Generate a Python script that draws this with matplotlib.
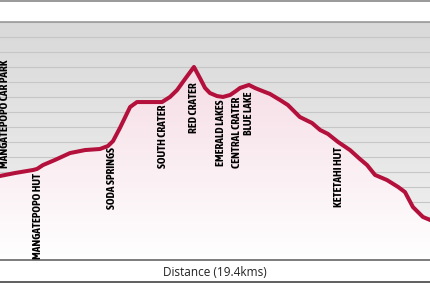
import matplotlib
matplotlib.use("Agg")
import matplotlib.pyplot as plt
import numpy as np
from matplotlib.colors import LinearSegmentedColormap

# elevation profile (km, m)
dist_km = [0.00, 0.68, 1.49, 1.67, 1.94, 2.48, 3.16, 3.84, 4.51, 4.87, 5.10,
           5.41, 5.87, 6.18, 6.77, 7.31, 7.67, 7.99, 8.35, 8.75, 9.02, 9.25,
           9.47, 9.79, 10.06, 10.38, 10.65, 10.83, 11.23, 11.50, 11.73, 12.18,
           12.63, 12.99, 13.53, 14.08, 14.44, 14.80, 15.25, 15.79, 16.24,
           16.56, 16.92, 17.46, 17.96, 18.27, 18.63, 19.08, 19.40]
elev_m = [1070, 1090, 1110, 1117, 1143, 1177, 1223, 1243, 1250, 1270, 1303,
          1390, 1530, 1563, 1563, 1563, 1597, 1643, 1717, 1797, 1723, 1657,
          1623, 1603, 1597, 1610, 1637, 1657, 1677, 1657, 1643, 1617,
          1577, 1543, 1463, 1423, 1377, 1350, 1297, 1243, 1183,
          1143, 1077, 1043, 997, 963, 863, 797, 777]

# waypoint labels: name, km, elevation of the label anchor
place_names = ["MANGATEPOPO HUT", "SODA SPRINGS", "SOUTH CRATER", "RED CRATER",
               "EMERALD LAKES", "CENTRAL CRATER", "BLUE LAKE", "KETETAHI HUT"]
place_km = [1.67, 5.05, 7.31, 8.71, 9.97, 10.69, 11.19, 15.25]
place_top = [1090, 1263, 1543, 1697, 1577, 1597, 1630, 1263]
start_name = "MANGATEPOPO CAR PARK"
start_km = 0.22
start_bottom = 1123

Y_MIN, Y_MAX = 510, 2100
LINE = "#b3103c"
LABEL_FONT = ["Asap Condensed", "Liberation Sans Narrow", "DejaVu Sans"]

fig = plt.figure(figsize=(4.3, 2.83), dpi=100)
ax = fig.add_axes([0, 23 / 283, 1, (283 - 21.5 - 23) / 283])
ax.set_xlim(0, 19.4)
ax.set_ylim(Y_MIN, Y_MAX)

# grey gradient background (darker at the top)
bg = LinearSegmentedColormap.from_list("bg", ["#d9d9d9", "#f2f2f2"])
ax.imshow(np.linspace(0, 1, 256).reshape(-1, 1), cmap=bg, aspect="auto",
          extent=[0, 19.4, Y_MIN, Y_MAX], origin="upper", zorder=0)
for e in range(600, 2101, 100):
    ax.axhline(e, color="#c6c6c6", lw=0.8, zorder=1)

# pink-to-white fill under the profile
poly = ax.fill_between(dist_km, elev_m, Y_MIN, color="none", zorder=2)
pink = LinearSegmentedColormap.from_list("pk", ["#f5dce4", "#ffffff"])
im = ax.imshow(np.linspace(0, 1, 256).reshape(-1, 1), cmap=pink, aspect="auto",
               extent=[0, 19.4, Y_MIN, 1800], origin="upper", zorder=2)
im.set_clip_path(poly.get_paths()[0], transform=ax.transData)

ax.plot(dist_km, elev_m, color=LINE, lw=2.9, solid_joinstyle="round", zorder=3)

for name, x, y in zip(place_names, place_km, place_top):
    ax.text(x, y, name, rotation=90, ha="center", va="top", fontsize=8.2,
            fontweight="bold", family=LABEL_FONT, color="black", zorder=4)
ax.text(start_km, start_bottom, start_name, rotation=90, ha="center",
        va="bottom", fontsize=8.2, fontweight="bold", family=LABEL_FONT,
        color="black", zorder=4)

ax.set_xticks([])
ax.set_yticks([])
for s in ["left", "right"]:
    ax.spines[s].set_visible(False)
ax.spines["top"].set_color("#999999")
ax.spines["top"].set_linewidth(1.2)
ax.spines["bottom"].set_color("#666666")
ax.spines["bottom"].set_linewidth(1.2)

# frame lines above and below the plot
fig.add_artist(plt.Line2D([0, 1], [1 - 1 / 283] * 2, color="#888888", lw=1.2))
fig.add_artist(plt.Line2D([0, 1], [1.5 / 283] * 2, color="#444444", lw=1.2))
fig.text(0.5, 11 / 283, "Distance (19.4kms)", ha="center", va="center",
         fontsize=8.5, family="Open Sans", color="#222222")

fig.savefig("out.png", dpi=100)
